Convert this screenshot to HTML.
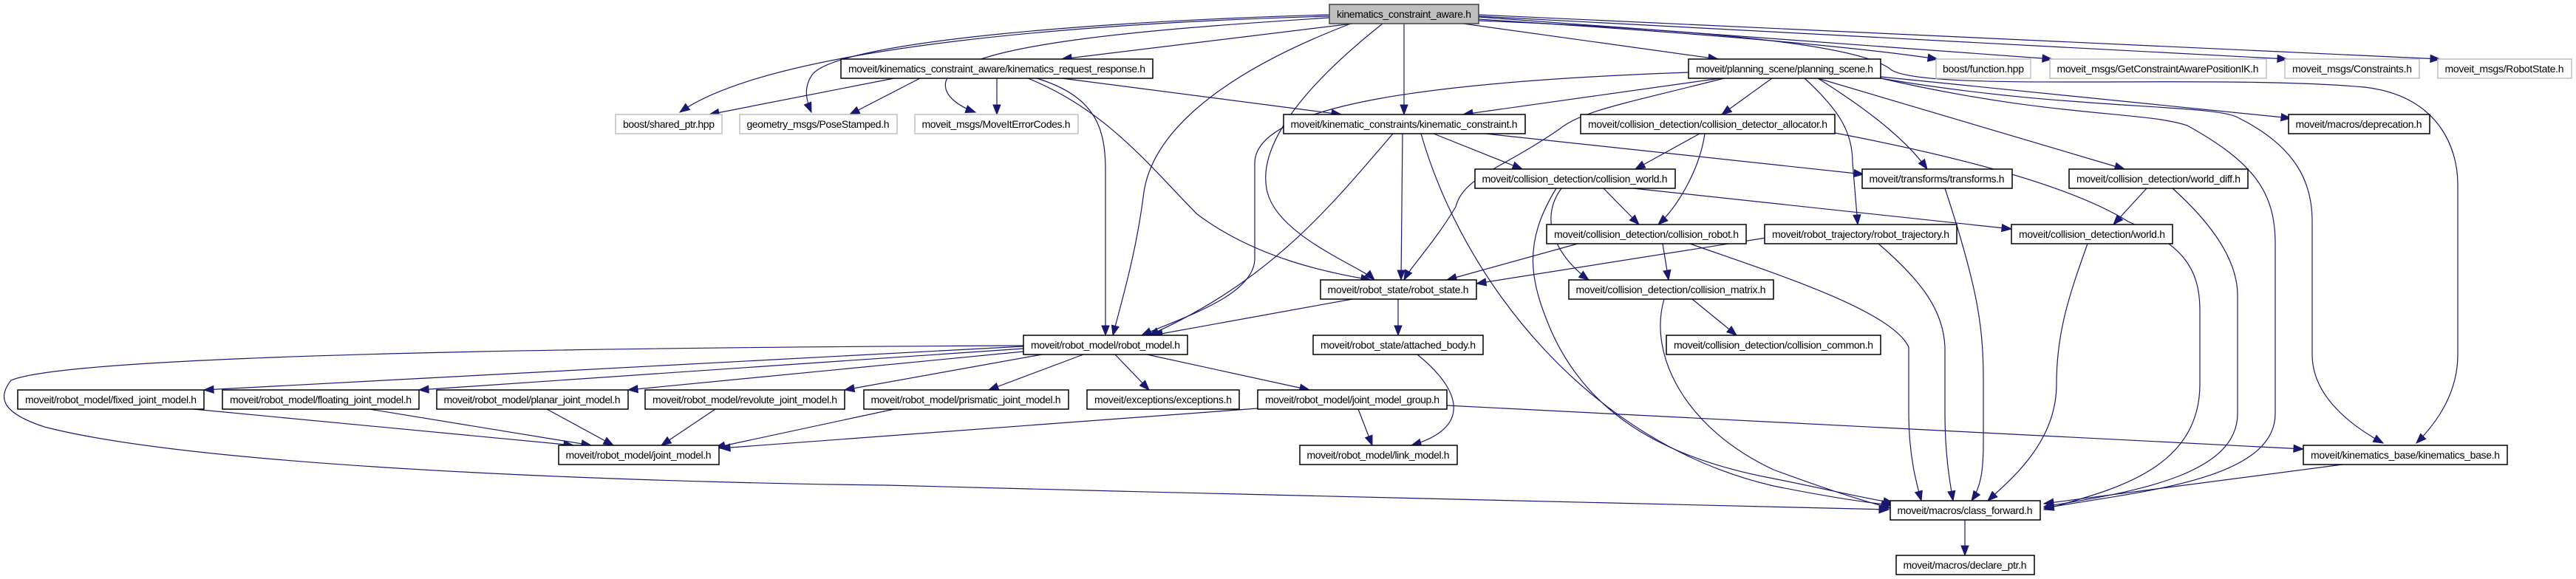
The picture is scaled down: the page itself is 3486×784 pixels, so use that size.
<!DOCTYPE html>
<html><head><meta charset="utf-8"><style>
html,body{margin:0;padding:0;background:#fff;}
svg{display:block;}
text{font-family:"Liberation Sans",Arial,sans-serif;font-size:14px;fill:#000;}
</style></head><body>
<svg id="g" width="3486" height="784" viewBox="0 0 3486 784" xmlns="http://www.w3.org/2000/svg">
<g id="edges" fill="none" stroke="#191970" stroke-width="1.2"></g>
<g id="arrows" fill="#191970" stroke="#191970" stroke-width="1"></g>
<g id="nodes">
<rect x="1799" y="6" width="202" height="26" fill="#bfbfbf" stroke="#404040" stroke-width="1.5"/><text x="1900" y="24" text-anchor="middle" textLength="182">kinematics_constraint_aware.h</text>
<rect x="1138" y="80" width="422" height="26" fill="#fff" stroke="#000" stroke-width="1.5"/><text x="1349" y="98" text-anchor="middle" textLength="402">moveit/kinematics_constraint_aware/kinematics_request_response.h</text>
<rect x="2285" y="80" width="260" height="26" fill="#fff" stroke="#000" stroke-width="1.5"/><text x="2415" y="98" text-anchor="middle" textLength="240">moveit/planning_scene/planning_scene.h</text>
<rect x="2620" y="80" width="128" height="26" fill="#fff" stroke="#bfbfbf" stroke-width="1.5"/><text x="2684" y="98" text-anchor="middle" textLength="110">boost/function.hpp</text>
<rect x="2774" y="80" width="293" height="26" fill="#fff" stroke="#bfbfbf" stroke-width="1.5"/><text x="2920" y="98" text-anchor="middle" textLength="273">moveit_msgs/GetConstraintAwarePositionIK.h</text>
<rect x="3092" y="80" width="182" height="26" fill="#fff" stroke="#bfbfbf" stroke-width="1.5"/><text x="3183" y="98" text-anchor="middle" textLength="162">moveit_msgs/Constraints.h</text>
<rect x="3299" y="80" width="181" height="26" fill="#fff" stroke="#bfbfbf" stroke-width="1.5"/><text x="3389" y="98" text-anchor="middle" textLength="161">moveit_msgs/RobotState.h</text>
<rect x="833" y="155" width="144" height="26" fill="#fff" stroke="#bfbfbf" stroke-width="1.5"/><text x="905" y="173" text-anchor="middle" textLength="124">boost/shared_ptr.hpp</text>
<rect x="1001" y="155" width="213" height="26" fill="#fff" stroke="#bfbfbf" stroke-width="1.5"/><text x="1107" y="173" text-anchor="middle" textLength="193">geometry_msgs/PoseStamped.h</text>
<rect x="1238" y="155" width="221" height="26" fill="#fff" stroke="#bfbfbf" stroke-width="1.5"/><text x="1348" y="173" text-anchor="middle" textLength="201">moveit_msgs/MoveItErrorCodes.h</text>
<rect x="1737" y="155" width="327" height="26" fill="#fff" stroke="#000" stroke-width="1.5"/><text x="1900" y="173" text-anchor="middle" textLength="307">moveit/kinematic_constraints/kinematic_constraint.h</text>
<rect x="2139" y="155" width="344" height="26" fill="#fff" stroke="#000" stroke-width="1.5"/><text x="2311" y="173" text-anchor="middle" textLength="324">moveit/collision_detection/collision_detector_allocator.h</text>
<rect x="3097" y="155" width="191" height="26" fill="#fff" stroke="#000" stroke-width="1.5"/><text x="3192" y="173" text-anchor="middle" textLength="171">moveit/macros/deprecation.h</text>
<rect x="1996" y="229" width="271" height="26" fill="#fff" stroke="#000" stroke-width="1.5"/><text x="2131" y="247" text-anchor="middle" textLength="251">moveit/collision_detection/collision_world.h</text>
<rect x="2520" y="229" width="203" height="26" fill="#fff" stroke="#000" stroke-width="1.5"/><text x="2621" y="247" text-anchor="middle" textLength="183">moveit/transforms/transforms.h</text>
<rect x="2800" y="229" width="242" height="26" fill="#fff" stroke="#000" stroke-width="1.5"/><text x="2921" y="247" text-anchor="middle" textLength="222">moveit/collision_detection/world_diff.h</text>
<rect x="2093" y="304" width="270" height="26" fill="#fff" stroke="#000" stroke-width="1.5"/><text x="2228" y="322" text-anchor="middle" textLength="250">moveit/collision_detection/collision_robot.h</text>
<rect x="2388" y="304" width="260" height="26" fill="#fff" stroke="#000" stroke-width="1.5"/><text x="2518" y="322" text-anchor="middle" textLength="240">moveit/robot_trajectory/robot_trajectory.h</text>
<rect x="2722" y="304" width="218" height="26" fill="#fff" stroke="#000" stroke-width="1.5"/><text x="2831" y="322" text-anchor="middle" textLength="198">moveit/collision_detection/world.h</text>
<rect x="1787" y="379" width="211" height="26" fill="#fff" stroke="#000" stroke-width="1.5"/><text x="1892" y="397" text-anchor="middle" textLength="191">moveit/robot_state/robot_state.h</text>
<rect x="2123" y="379" width="277" height="26" fill="#fff" stroke="#000" stroke-width="1.5"/><text x="2261" y="397" text-anchor="middle" textLength="257">moveit/collision_detection/collision_matrix.h</text>
<rect x="1385" y="454" width="222" height="26" fill="#fff" stroke="#000" stroke-width="1.5"/><text x="1496" y="472" text-anchor="middle" textLength="202">moveit/robot_model/robot_model.h</text>
<rect x="1777" y="454" width="230" height="26" fill="#fff" stroke="#000" stroke-width="1.5"/><text x="1892" y="472" text-anchor="middle" textLength="210">moveit/robot_state/attached_body.h</text>
<rect x="2255" y="454" width="290" height="26" fill="#fff" stroke="#000" stroke-width="1.5"/><text x="2400" y="472" text-anchor="middle" textLength="270">moveit/collision_detection/collision_common.h</text>
<rect x="24" y="528" width="252" height="26" fill="#fff" stroke="#000" stroke-width="1.5"/><text x="150" y="546" text-anchor="middle" textLength="232">moveit/robot_model/fixed_joint_model.h</text>
<rect x="301" y="528" width="266" height="26" fill="#fff" stroke="#000" stroke-width="1.5"/><text x="434" y="546" text-anchor="middle" textLength="246">moveit/robot_model/floating_joint_model.h</text>
<rect x="591" y="528" width="259" height="26" fill="#fff" stroke="#000" stroke-width="1.5"/><text x="720" y="546" text-anchor="middle" textLength="239">moveit/robot_model/planar_joint_model.h</text>
<rect x="873" y="528" width="270" height="26" fill="#fff" stroke="#000" stroke-width="1.5"/><text x="1008" y="546" text-anchor="middle" textLength="250">moveit/robot_model/revolute_joint_model.h</text>
<rect x="1169" y="528" width="277" height="26" fill="#fff" stroke="#000" stroke-width="1.5"/><text x="1307" y="546" text-anchor="middle" textLength="257">moveit/robot_model/prismatic_joint_model.h</text>
<rect x="1471" y="528" width="206" height="26" fill="#fff" stroke="#000" stroke-width="1.5"/><text x="1574" y="546" text-anchor="middle" textLength="186">moveit/exceptions/exceptions.h</text>
<rect x="1702" y="528" width="256" height="26" fill="#fff" stroke="#000" stroke-width="1.5"/><text x="1830" y="546" text-anchor="middle" textLength="236">moveit/robot_model/joint_model_group.h</text>
<rect x="756" y="603" width="217" height="26" fill="#fff" stroke="#000" stroke-width="1.5"/><text x="864" y="621" text-anchor="middle" textLength="197">moveit/robot_model/joint_model.h</text>
<rect x="1759" y="603" width="213" height="26" fill="#fff" stroke="#000" stroke-width="1.5"/><text x="1865" y="621" text-anchor="middle" textLength="193">moveit/robot_model/link_model.h</text>
<rect x="3117" y="603" width="276" height="26" fill="#fff" stroke="#000" stroke-width="1.5"/><text x="3255" y="621" text-anchor="middle" textLength="256">moveit/kinematics_base/kinematics_base.h</text>
<rect x="2558" y="678" width="203" height="26" fill="#fff" stroke="#000" stroke-width="1.5"/><text x="2659" y="696" text-anchor="middle" textLength="183">moveit/macros/class_forward.h</text>
<rect x="2566" y="752" width="187" height="26" fill="#fff" stroke="#000" stroke-width="1.5"/><text x="2659" y="770" text-anchor="middle" textLength="167">moveit/macros/declare_ptr.h</text>
</g>
</svg>
<script>
var E=[
'M1799,22 C1500,30 1050,60 920,152',
'M1799,20 C1500,28 1140,55 1100,100 C1085,120 1093,140 1098,152',
'M1799,24 C1550,40 1300,60 1280,110 C1275,130 1300,145 1320,152',
'M1830,32 L1437,80','M1900,32 L1900,155',
'M1871,32 C1760,120 1700,200 1715,260 C1730,320 1840,360 1860,379',
'M1828,32 C1650,100 1560,180 1548,260 C1538,340 1520,400 1506,454',
'M1980,32 L2325,80','M2001,26 C2300,45 2500,62 2622,80','M2001,23 L2777,80',
'M2001,22 L3095,80','M2001,20 L3302,80',
'M2001,28 C2300,40 2520,60 2560,95 C2610,125 3000,100 3200,118 C3300,130 3326,200 3326,250 L3326,480 C3326,530 3300,570 3270,600',
'M1210,106 L960,155','M1245,106 L1150,155','M1349,106 L1349,155','M1437,106 L1815,155',
'M1391,106 C1500,150 1560,230 1620,290 C1700,350 1800,370 1855,379',
'M1403,106 C1480,130 1496,170 1496,230 L1496,454',
'M2285,98 C1950,110 1700,140 1698,220 L1698,350 C1698,400 1600,430 1545,454',
'M2333,106 C2200,140 2140,150 2110,175 C2030,230 1980,240 1970,280 C1940,330 1910,360 1900,379',
'M2328,106 L1980,155','M2398,106 L2330,155',
'M2460,106 C2530,150 2580,190 2608,229',
'M2442,106 C2490,150 2507,180 2507,220 L2514,304',
'M2460,106 L2875,229','M2545,104 L3100,160',
'M2545,106 C2800,150 3000,140 3030,160 C3110,200 3129,250 3129,300 L3129,480 C3129,530 3170,570 3225,600',
'M2545,106 C2780,160 2900,150 2960,170 C3050,220 3079,260 3079,330 L3079,560 C3079,650 2900,665 2766,688',
'M1885,181 C1800,280 1720,380 1555,454','M1898,181 L1896,379',
'M1923,181 C1980,380 2150,600 2400,658 C2470,672 2520,680 2560,684',
'M1940,181 L2060,229','M2010,181 L2522,236',
'M2300,181 L2213,229','M2307,181 C2300,230 2270,280 2244,304',
'M2483,180 C2640,210 2800,250 2880,300 C2950,330 2977,360 2977,420 L2977,520 C2977,640 2850,665 2766,690',
'M2170,255 L2218,304','M2113,255 C2080,300 2110,350 2150,379',
'M2210,255 L2722,310',
'M2106,255 C2060,330 2070,380 2100,450 C2150,560 2250,620 2400,648 C2470,662 2520,674 2562,681',
'M2135,330 L1958,379','M2250,330 L2258,379',
'M2287,330 C2400,370 2560,420 2583,470 L2583,560 C2583,620 2595,660 2600,678',
'M2390,322 L1998,384',
'M2542,330 C2600,380 2630,420 2632,470 L2632,560 C2632,620 2640,660 2643,678',
'M2905,255 L2860,304',
'M2940,255 C2990,300 3028,350 3028,400 L3028,560 C3028,640 2900,665 2766,686',
'M2825,330 C2800,400 2783,450 2783,520 C2783,600 2720,650 2690,678',
'M2632,255 C2680,400 2684,450 2684,520 L2684,600 C2684,640 2680,660 2668,678',
'M1830,405 L1560,454','M1892,405 L1892,454',
'M2290,405 L2350,454',
'M2252,405 C2230,480 2280,580 2400,636 C2470,662 2520,678 2558,688',
'M1918,480 C1980,530 1990,580 1910,603',
'M1385,469 L276,528','M1385,472 L567,528','M1385,476 L850,528','M1410,480 L1143,528',
'M1466,480 L1338,528','M1509,480 L1555,528','M1552,480 L1772,528',
'M1385,468 C900,470 100,478 15,515 C-5,540 5,560 60,578 C300,640 1000,655 1200,657 C1700,670 2300,685 2556,690',
'M262,554 L776,603','M500,554 L800,603','M740,554 L830,603','M968,554 L895,603',
'M1210,554 L968,606','M1702,553 L975,607','M1838,554 L1857,603','M1958,549 L3117,608',
'M3170,629 L2766,682','M2659,704 L2659,752'
];
var eg=document.getElementById('edges'),ag=document.getElementById('arrows'),ns='http://www.w3.org/2000/svg';
E.forEach(function(d){
 var nums=d.match(/-?[\d.]+/g).map(Number);var L=nums.length;
 var ex=nums[L-2],ey=nums[L-1],px=nums[L-4],py=nums[L-3];
 var dx=ex-px,dyy=ey-py,len=Math.sqrt(dx*dx+dyy*dyy)||1;dx/=len;dyy/=len;
 var al=13,aw=5,bx=ex-dx*al,by=ey-dyy*al;
 var p=document.createElementNS(ns,'path');p.setAttribute('d',d);eg.appendChild(p);
 var a=document.createElementNS(ns,'polygon');
 a.setAttribute('points',ex+','+ey+' '+(bx-dyy*aw)+','+(by+dx*aw)+' '+(bx+dyy*aw)+','+(by-dx*aw));
 ag.appendChild(a);
});
</script>
</body></html>
